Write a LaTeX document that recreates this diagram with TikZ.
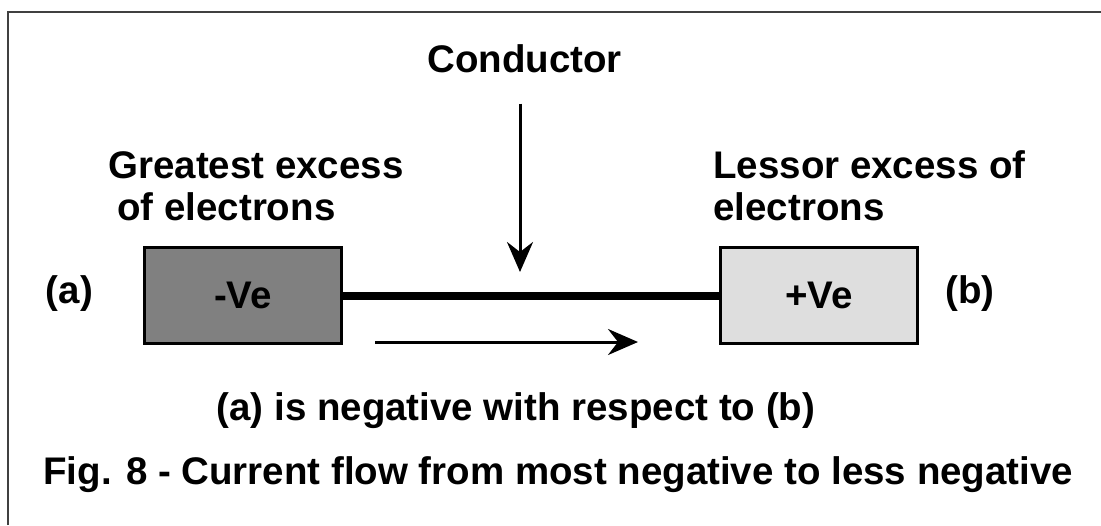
\documentclass[tikz,border=0pt]{standalone}
\usepackage{fontspec}
\setmainfont{Liberation Sans}
\usepackage{tikz}
\usetikzlibrary{arrows.meta,positioning}

\tikzset{
  box/.style={draw, line width=0.06cm, minimum width=3.94cm, minimum height=1.92cm, inner sep=0pt},
  flowarrow/.style={line width=0.06cm, -{Stealth[length=0.6cm, width=0.52cm, inset=0.2cm]}}
}

\begin{document}
\begin{tikzpicture}[x=0.02cm, y=-0.02cm, every node/.style={inner sep=0pt},
    font=\fontsize{21.9pt}{26pt}\selectfont\bfseries]
  \useasboundingbox (0,0) rectangle (1101,525);
  \draw [line width=0.04cm, black!75] (8,525) -- (8,12) -- (1101,12);
  \node [box, fill=black!50] (neg) at (243,295.5) {-Ve\hspace{0.88cm}};
  \node [box, fill=black!13] (pos) at (819,295.5) {+Ve};
  \draw [line width=0.16cm] (neg) -- (pos);
  \node [anchor=base] (lbl) at (524.5,72) {Conductor};
  \coordinate (tip) at (520,272);
  \draw [flowarrow, shorten <=0.62cm] (lbl.south -| tip) -- (tip);
  \coordinate (flowstart) at (375,342);
  \coordinate (flowend) at (638,342);
  \draw [flowarrow] (flowstart) -- (flowend);
  \node [anchor=base] (a) at (69.5,303) {(a)};
  \node [anchor=base] (b) at (970,303) {(b)};
  \node [anchor=base west] (great) at (108,178) {Greatest excess};
  \node [anchor=base west] (greatb) at (117,220) {of electrons};
  \node [anchor=base west] (less) at (713,178) {Lessor excess of};
  \node [anchor=base west] (lessb) at (713,220) {electrons};
  \node [anchor=base] (note) at (516,420) {(a) is negative with respect to (b)};
  \node [anchor=base west] (caption) at (43,484) {Fig. 8 - Current flow from most negative to less negative};
\end{tikzpicture}
\end{document}
